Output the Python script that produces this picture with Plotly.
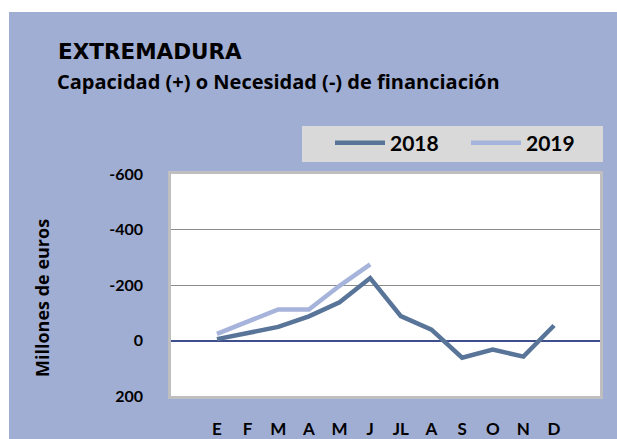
import plotly.graph_objects as go

# Datos (millones de euros)
meses = ['E', 'F', 'M', 'A', 'M', 'J', 'JL', 'A', 'S', 'O', 'N', 'D']
valores_2018 = [-5, -25, -49, -87, -138, -225, -88, -39, 62, 33, 58, -54]
valores_2019 = [-24, -69, -112, -112, -197, -274]
ticks_y = [-600, -400, -200, 0, 200]
etiquetas_y = ['-600', '-400', '-200', '0', '200']

W, H = 617, 439
L, R, T, B = 171, 17, 174, 43
pw, ph = W - L - R, H - T - B


def px_x(p):
    return (p - L) / pw


def px_y(p):
    return (H - B - p) / ph


azul = '#A0AED4'
fuente = 'Lato'

x = list(range(len(meses)))

fig = go.Figure()
fig.add_trace(go.Scatter(x=x, y=valores_2018, name='2018', mode='lines',
                         line=dict(color='#587498', width=4.5)))
fig.add_trace(go.Scatter(x=x[:len(valores_2019)], y=valores_2019, name='2019', mode='lines',
                         line=dict(color='#A6B3DA', width=4.5)))

fig.update_layout(
    template='none',
    width=W, height=H,
    margin=dict(l=L, r=R, t=T, b=B, pad=0, autoexpand=False),
    paper_bgcolor=azul,
    plot_bgcolor='white',
    font=dict(family=fuente, color='black'),
    showlegend=True,
    legend=dict(orientation='h', x=px_x(330), xanchor='left', y=px_y(143), yanchor='middle',
                bgcolor='rgba(0,0,0,0)', font=dict(size=21, family=fuente, weight='bold'),
                itemwidth=50, entrywidth=71, entrywidthmode='pixels'),
    shapes=[
        # franjas blancas del borde exterior
        dict(type='rect', xref='paper', yref='paper', x0=px_x(0), x1=px_x(W), y0=px_y(12), y1=px_y(0),
             fillcolor='white', line=dict(width=0), layer='below'),
        dict(type='rect', xref='paper', yref='paper', x0=px_x(0), x1=px_x(9), y0=px_y(H), y1=px_y(0),
             fillcolor='white', line=dict(width=0), layer='below'),
        # caja de la leyenda
        dict(type='rect', xref='paper', yref='paper', x0=px_x(302), x1=px_x(603), y0=px_y(162), y1=px_y(126),
             fillcolor='#D9D9D9', line=dict(width=0), layer='below'),
    ],
    annotations=[
        dict(text='EXTREMADURA', xref='paper', yref='paper', x=px_x(56), y=px_y(51),
             xanchor='left', yanchor='middle', showarrow=False,
             font=dict(size=21.5, family='DejaVu Sans', weight='bold')),
        dict(text='Capacidad (+) o Necesidad (-) de financiación', xref='paper', yref='paper',
             x=px_x(55), y=px_y(81), xanchor='left', yanchor='middle', showarrow=False,
             font=dict(size=20, family='Open Sans', weight='bold')),
        dict(text='Millones de euros', xref='paper', yref='paper', x=px_x(42), y=px_y(298),
             xanchor='center', yanchor='middle', textangle=-90, showarrow=False,
             font=dict(size=18, family='Open Sans', weight='bold')),
    ],
)

fig.update_xaxes(
    automargin=False,
    range=[-1.5, 12.5], tickvals=x, ticktext=meses,
    showgrid=False, zeroline=False,
    showline=True, linecolor='#BFBFBF', linewidth=2.5, mirror=True,
    ticks='', ticklabelstandoff=16,
    tickfont=dict(size=17, family=fuente, weight='bold', color='black'),
)
fig.update_yaxes(
    automargin=False,
    range=[200, -600], tickvals=ticks_y, ticktext=etiquetas_y,
    showgrid=True, gridcolor='#8C8C8C', gridwidth=1,
    zeroline=True, zerolinecolor='#3F4E8C', zerolinewidth=1.5,
    showline=True, linecolor='#BFBFBF', linewidth=2.5, mirror=True,
    ticks='', ticklabelstandoff=22,
    tickfont=dict(size=16, family=fuente, weight='bold', color='black'),
)

fig.write_html('out.html', config={'displayModeBar': False},
               post_script="document.body.style.margin = '0px';")
